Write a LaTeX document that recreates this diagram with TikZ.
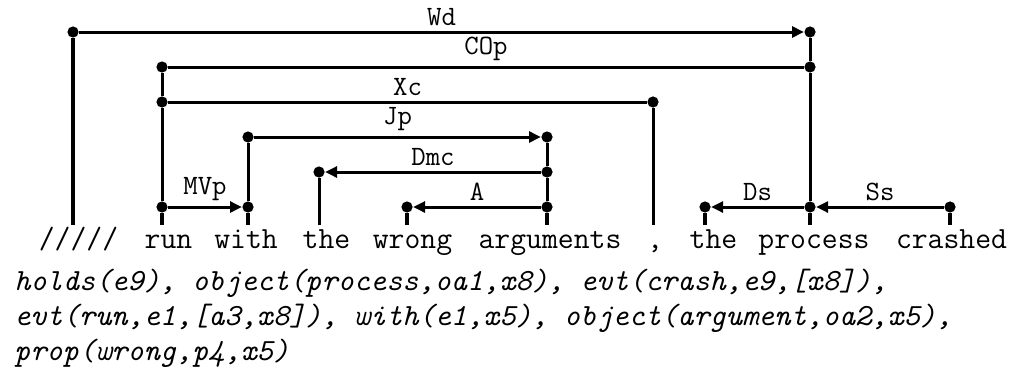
\documentclass[tikz,border=0pt]{standalone}
\usepackage{tikz}
\usetikzlibrary{arrows.meta}
\definecolor{ink}{RGB}{0,0,0}
\tikzset{
  word/.style={anchor=base,inner sep=0pt,font=\fontsize{15.4}{17.5}\selectfont\ttfamily},
  lf/.style={anchor=base west,inner sep=0pt,font=\fontsize{15.4}{17.5}\selectfont\ttfamily\itshape},
  dot/.style={circle,fill=ink,inner sep=0pt,minimum size=5.6pt},
  lnk/.style={line width=1.5pt,ink},
  arr/.style={lnk,-{Triangle[length=6pt,width=5.4pt]}},
  tick/.style={line width=2.2pt,ink},
  lbl/.style={above,inner sep=2.5pt,font=\fontsize{14}{16}\selectfont\ttfamily},
}

\begin{document}
\begin{tikzpicture}[x=0.5pt,y=-0.5pt]
  \useasboundingbox (0,0) rectangle (1015,375);
  % sentence
  \node[word] (w0) at (78.5,248) {/////};
  \node[word] (w1) at (168.5,248) {run};
  \node[word] (w2) at (246,248) {with};
  \node[word] (w3) at (326.5,248) {the};
  \node[word] (w4) at (412.5,248) {wrong};
  \node[word] (w5) at (550,248) {arguments};
  \node[word] (w6) at (655,248) {,};
  \node[word] (w7) at (713.5,248) {the};
  \node[word] (w8) at (814,248) {process};
  \node[word] (w9) at (951.5,248) {crashed};
  % tick ends over the words
  \coordinate (t0) at (73,225);
  \coordinate (t1) at (162,225);
  \coordinate (t2) at (248,225);
  \coordinate (t3) at (319,225);
  \coordinate (t4) at (407,225);
  \coordinate (t5) at (547,225);
  \coordinate (t6) at (653,225);
  \coordinate (t7) at (705,225);
  \coordinate (t8) at (810,225);
  \coordinate (t9) at (950,225);
  % link ends
  \node[dot] (wd0) at (73,32) {};
  \node[dot] (wd8) at (810,32) {};
  \node[dot] (cop1) at (162,67) {};
  \node[dot] (cop8) at (810,67) {};
  \node[dot] (xc1) at (162,102) {};
  \node[dot] (xc6) at (653,102) {};
  \node[dot] (jp2) at (248,137) {};
  \node[dot] (jp5) at (547,137) {};
  \node[dot] (dm3) at (319,172) {};
  \node[dot] (dm5) at (547,172) {};
  \node[dot] (mv1) at (162,207) {};
  \node[dot] (mv2) at (248,207) {};
  \node[dot] (a4) at (407,207) {};
  \node[dot] (a5) at (547,207) {};
  \node[dot] (ds7) at (705,207) {};
  \node[dot] (s8) at (810,207) {};
  \node[dot] (ss9) at (950,207) {};
  % links
  \draw[arr] (wd0) -- node[lbl]{Wd} (wd8);
  \draw[lnk] (cop1) -- node[lbl]{COp} (cop8);
  \draw[lnk] (xc1) -- node[lbl]{Xc} (xc6);
  \draw[arr] (jp2) -- node[lbl]{Jp} (jp5);
  \draw[arr] (dm5) -- node[lbl]{Dmc} (dm3);
  \draw[arr] (mv1) -- node[lbl]{MVp} (mv2);
  \draw[arr] (a5) -- node[lbl]{A} (a4);
  \draw[arr] (s8) -- node[lbl]{Ds} (ds7);
  \draw[arr] (ss9) -- node[lbl]{Ss} (s8);
  % verticals down to the words
  \draw[tick] (wd0) -- (t0);
  \draw[lnk] (cop1) -- (xc1);
  \draw[lnk] (xc1) -- (mv1);
  \draw[tick] (mv1) -- (t1);
  \draw[lnk] (jp2) -- (mv2);
  \draw[tick] (mv2) -- (t2);
  \draw[lnk] (dm3) -- (t3);
  \draw[tick] (a4) -- (t4);
  \draw[lnk] (jp5) -- (dm5);
  \draw[lnk] (dm5) -- (a5);
  \draw[tick] (a5) -- (t5);
  \draw[lnk] (xc6) -- (t6);
  \draw[tick] (ds7) -- (t7);
  \draw[lnk] (wd8) -- (cop8);
  \draw[lnk] (cop8) -- (s8);
  \draw[tick] (s8) -- (t8);
  \draw[tick] (ss9) -- (t9);
  % logical form
  \node[lf] (lf1) at (14,290) {holds(e9), object(process,oa1,x8), evt(crash,e9,[x8]),};
  \node[lf] (lf2) at (14,325) {evt(run,e1,[a3,x8]), with(e1,x5), object(argument,oa2,x5),};
  \node[lf] (lf3) at (14,360) {prop(wrong,p4,x5)};
\end{tikzpicture}
\end{document}
